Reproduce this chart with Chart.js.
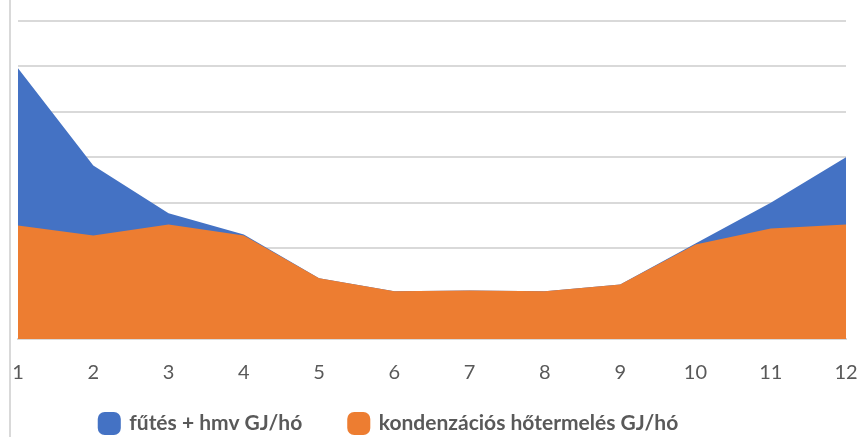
<!DOCTYPE html>
<html>
<head>
<meta charset="utf-8">
<script src="https://cdn.jsdelivr.net/npm/chart.js@4"></script>
<style>
  html, body { margin: 0; padding: 0; background: #fff; }
  #wrap { position: relative; width: 861px; height: 437px; }
  #edge { position: absolute; left: 9px; top: 0; width: 2px; height: 437px; background: #d9d9d9; }
  canvas { position: absolute; left: 0; top: 0; }
</style>
</head>
<body>
<div id="wrap">
  <div id="edge"></div>
  <canvas id="chart" width="861" height="437"></canvas>
</div>
<script>
// Data
const months = ['1','2','3','4','5','6','7','8','9','10','11','12'];
const heating = [5.96, 3.82, 2.77, 2.3, 1.34, 1.05, 1.07, 1.05, 1.2, 2.1, 3.0, 4.0];
const condensing = [2.5, 2.28, 2.52, 2.28, 1.34, 1.05, 1.07, 1.05, 1.2, 2.08, 2.43, 2.52];

const blue = '#4472c4';
const orange = '#ed7d31';
const grey = '#595959';

// move the legend to where the original has it
const legendShift = {
    id: 'legendShift',
    afterLayout(chart) {
        const lg = chart.legend;
        const h = lg.height;
        lg.top = 366;
        lg.bottom = lg.top + h;
        lg.left -= 43;
        lg.right -= 43;
    }
};

const ctx = document.getElementById('chart').getContext('2d');
new Chart(ctx, {
    type: 'line',
    data: {
        labels: months,
        datasets: [
            {
                label: 'fűtés + hmv GJ/hó',
                data: heating,
                backgroundColor: blue,
                borderColor: blue,
                borderWidth: 0,
                pointRadius: 0,
                fill: 'origin',
                order: 2
            },
            {
                label: 'kondenzációs hőtermelés GJ/hó',
                data: condensing,
                backgroundColor: orange,
                borderColor: orange,
                borderWidth: 0,
                pointRadius: 0,
                fill: 'origin',
                order: 1
            }
        ]
    },
    options: {
        responsive: false,
        animation: false,
        layout: { padding: { left: 18, right: 15, top: 21, bottom: -40 } },
        scales: {
            x: {
                offset: false,
                grid: { display: false },
                border: { color: '#d9d9d9', width: 2 },
                ticks: { color: grey, font: { family: 'Lato', size: 20 }, padding: 14, maxRotation: 0 },
                afterFit: s => { s.paddingLeft = 0; s.paddingRight = 0; }
            },
            y: {
                min: 0,
                max: 7,
                ticks: { display: false, stepSize: 1 },
                grid: { color: '#d9d9d9', lineWidth: 2, drawTicks: false },
                border: { display: false }
            }
        },
        plugins: {
            tooltip: { enabled: false },
            legend: {
                position: 'bottom',
                labels: {
                    color: grey,
                    font: { family: 'Lato', size: 21, weight: 'bold' },
                    usePointStyle: true,
                    pointStyle: 'rectRounded',
                    boxWidth: 19,
                    boxHeight: 19,
                    padding: 47,
                    sort: (a, b) => a.datasetIndex - b.datasetIndex
                }
            }
        }
    },
    plugins: [legendShift]
});
</script>
</body>
</html>
